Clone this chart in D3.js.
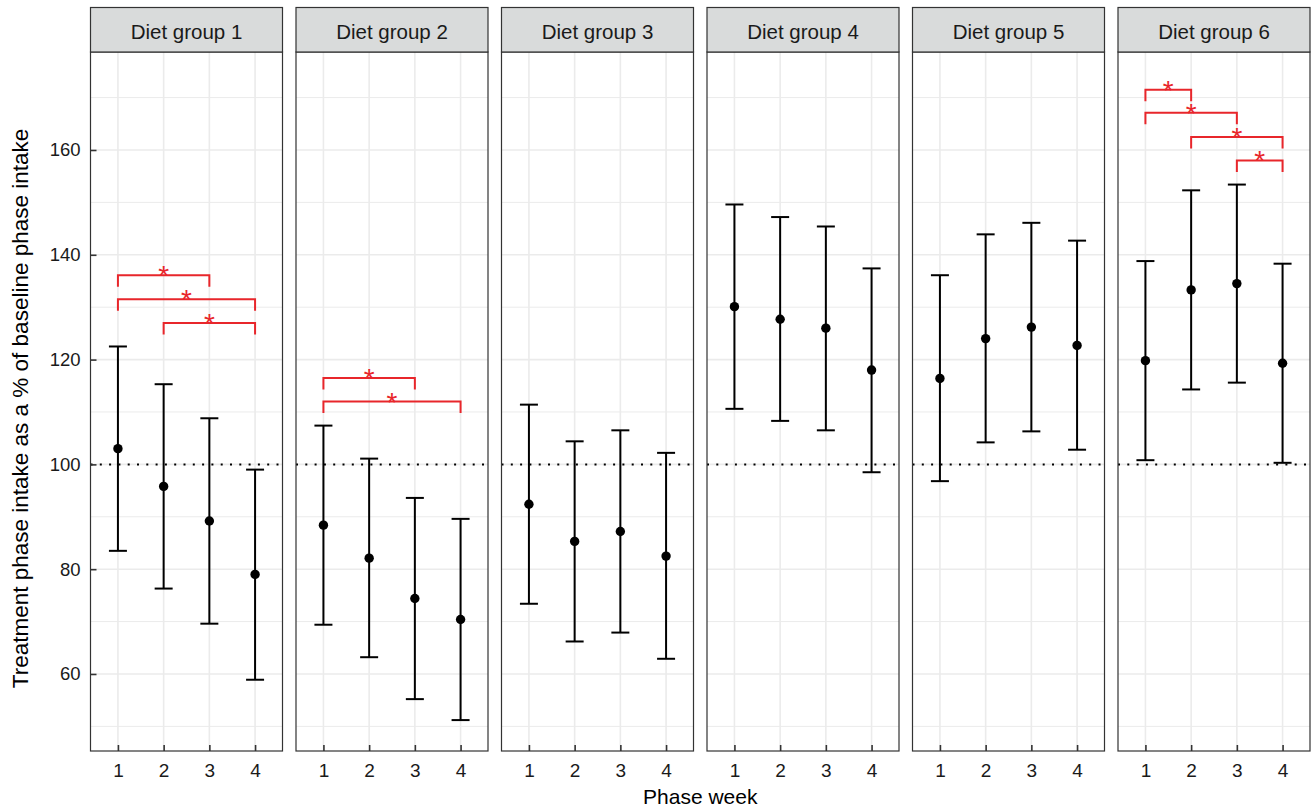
<!DOCTYPE html>
<html>
<head>
<meta charset="utf-8">
<script src="https://cdn.jsdelivr.net/npm/d3@7"></script>
<style>
  body { margin: 0; background: #fff; }
  svg { display: block; font-family: "Liberation Sans", Arial, Helvetica, sans-serif; }
</style>
</head>
<body>
<div id="chart"></div>
<script>
const groups = ["Diet group 1", "Diet group 2", "Diet group 3", "Diet group 4", "Diet group 5", "Diet group 6"];
const weeks = ["1", "2", "3", "4"];

// mean and interval limits, one row per diet group, one entry per week
const means = [
  [103.0, 95.8, 89.2, 79.0],
  [88.4, 82.1, 74.4, 70.4],
  [92.4, 85.3, 87.2, 82.5],
  [130.1, 127.7, 126.0, 118.0],
  [116.4, 124.0, 126.2, 122.7],
  [119.8, 133.3, 134.5, 119.3]
];
const lower = [
  [83.5, 76.3, 69.6, 58.9],
  [69.4, 63.2, 55.2, 51.2],
  [73.4, 66.2, 67.9, 62.9],
  [110.6, 108.3, 106.5, 98.5],
  [96.8, 104.2, 106.3, 102.8],
  [100.8, 114.3, 115.6, 100.3]
];
const upper = [
  [122.5, 115.3, 108.8, 99.0],
  [107.4, 101.1, 93.6, 89.6],
  [111.4, 104.4, 106.5, 102.2],
  [149.6, 147.2, 145.4, 137.4],
  [136.1, 143.9, 146.1, 142.7],
  [138.8, 152.3, 153.4, 138.3]
];

// significance brackets
const sigGroup = [0, 0, 0, 1, 1, 5, 5, 5, 5];
const sigFrom = ["1", "1", "2", "1", "1", "1", "1", "2", "3"];
const sigTo = ["3", "4", "4", "3", "4", "2", "3", "4", "4"];
const sigLevel = [136.1, 131.5, 127.0, 116.5, 112.0, 171.5, 167.1, 162.5, 158.0];
const sigLabel = "*";

const yTicks = [60, 80, 100, 120, 140, 160];
const yMinor = [50, 70, 90, 110, 130, 150, 170];
const refLine = 100;

const W = 1312, H = 811;
const panel = { left: 90.5, width: 192, gap: 13.5, top: 52, bottom: 751, stripTop: 7.5 };
const red = "#e8262b";

const svg = d3.select("#chart").append("svg")
  .attr("width", W)
  .attr("height", H);

const y = d3.scaleLinear()
  .domain([45.3, 178.7])
  .range([panel.bottom, panel.top]);

const x = d3.scalePoint()
  .domain(weeks)
  .range([0, panel.width])
  .padding(0.6);

groups.forEach((name, gi) => {
  const px = panel.left + gi * (panel.width + panel.gap);
  const g = svg.append("g").attr("transform", `translate(${px},0)`);

  // grid
  g.append("g")
    .selectAll("line")
    .data(yMinor)
    .join("line")
    .attr("x1", 0).attr("x2", panel.width)
    .attr("y1", (d) => y(d)).attr("y2", (d) => y(d))
    .attr("stroke", "#ebebeb").attr("stroke-width", 1);

  g.append("g")
    .selectAll("line")
    .data(yTicks)
    .join("line")
    .attr("x1", 0).attr("x2", panel.width)
    .attr("y1", (d) => y(d)).attr("y2", (d) => y(d))
    .attr("stroke", "#ebebeb").attr("stroke-width", 1.6);

  g.append("g")
    .selectAll("line")
    .data(weeks)
    .join("line")
    .attr("x1", (d) => x(d)).attr("x2", (d) => x(d))
    .attr("y1", panel.top).attr("y2", panel.bottom)
    .attr("stroke", "#ebebeb").attr("stroke-width", 1.6);

  // reference line
  g.append("line")
    .attr("x1", 0).attr("x2", panel.width)
    .attr("y1", y(refLine)).attr("y2", y(refLine))
    .attr("stroke", "#000")
    .attr("stroke-width", 2)
    .attr("stroke-dasharray", "2 7.3");

  const rows = weeks.map((w, wi) => ({
    week: w,
    mean: means[gi][wi],
    lo: lower[gi][wi],
    hi: upper[gi][wi]
  }));

  // error bars
  const bars = g.append("g")
    .attr("stroke", "#000")
    .attr("stroke-width", 2)
    .attr("fill", "none");

  bars.selectAll("line.v")
    .data(rows)
    .join("line")
    .attr("class", "v")
    .attr("x1", (d) => x(d.week)).attr("x2", (d) => x(d.week))
    .attr("y1", (d) => y(d.lo)).attr("y2", (d) => y(d.hi));

  bars.selectAll("line.lo")
    .data(rows)
    .join("line")
    .attr("class", "lo")
    .attr("x1", (d) => x(d.week) - 9).attr("x2", (d) => x(d.week) + 9)
    .attr("y1", (d) => y(d.lo)).attr("y2", (d) => y(d.lo));

  bars.selectAll("line.hi")
    .data(rows)
    .join("line")
    .attr("class", "hi")
    .attr("x1", (d) => x(d.week) - 9).attr("x2", (d) => x(d.week) + 9)
    .attr("y1", (d) => y(d.hi)).attr("y2", (d) => y(d.hi));

  g.append("g")
    .selectAll("circle")
    .data(rows)
    .join("circle")
    .attr("cx", (d) => x(d.week))
    .attr("cy", (d) => y(d.mean))
    .attr("r", 4.7)
    .attr("fill", "#000");

  // brackets
  const sig = sigGroup
    .map((sg, i) => ({ g: sg, from: sigFrom[i], to: sigTo[i], level: sigLevel[i] }))
    .filter((d) => d.g === gi);

  const br = g.append("g");
  br.selectAll("path")
    .data(sig)
    .join("path")
    .attr("d", (d) => {
      const x0 = x(d.from), x1 = x(d.to);
      const yt = y(d.level), yb = y(d.level - 2.2);
      return `M${x0},${yb}V${yt}H${x1}V${yb}`;
    })
    .attr("fill", "none")
    .attr("stroke", red)
    .attr("stroke-width", 2);

  br.selectAll("text")
    .data(sig)
    .join("text")
    .attr("x", (d) => (x(d.from) + x(d.to)) / 2)
    .attr("y", (d) => y(d.level) + 10)
    .attr("text-anchor", "middle")
    .attr("font-size", 28)
    .attr("fill", red)
    .text(sigLabel);

  // axes with inward ticks
  const xAxis = g.append("g")
    .attr("transform", `translate(0,${panel.bottom})`)
    .call(d3.axisBottom(x).tickSizeInner(-6).tickSizeOuter(0).tickPadding(13));
  xAxis.select(".domain").remove();
  xAxis.selectAll(".tick line").attr("stroke", "#333").attr("stroke-width", 1.6);
  xAxis.selectAll(".tick text")
    .attr("font-size", 19)
    .attr("fill", "#1a1a1a")
    .attr("font-family", "Liberation Sans, Arial, sans-serif");

  if (gi === 0) {
    const yAxis = g.append("g")
      .call(d3.axisLeft(y).tickValues(yTicks).tickSizeInner(-6).tickSizeOuter(0).tickPadding(10));
    yAxis.select(".domain").remove();
    yAxis.selectAll(".tick line").attr("stroke", "#333").attr("stroke-width", 1.6);
    yAxis.selectAll(".tick text")
      .attr("font-size", 18.5)
      .attr("fill", "#1a1a1a")
      .attr("font-family", "Liberation Sans, Arial, sans-serif");
  }

  // panel border
  g.append("rect")
    .attr("x", 0).attr("y", panel.top)
    .attr("width", panel.width).attr("height", panel.bottom - panel.top)
    .attr("fill", "none")
    .attr("stroke", "#333")
    .attr("stroke-width", 1.2);

  // strip
  g.append("rect")
    .attr("x", 0).attr("y", panel.stripTop)
    .attr("width", panel.width).attr("height", panel.top - panel.stripTop)
    .attr("fill", "#d9dbdb")
    .attr("stroke", "#333")
    .attr("stroke-width", 1.2);

  g.append("text")
    .attr("x", panel.width / 2)
    .attr("y", 38.5)
    .attr("text-anchor", "middle")
    .attr("font-size", 20.5)
    .attr("fill", "#1a1a1a")
    .text(name);
});

const plotMid = panel.left + (groups.length * (panel.width + panel.gap) - panel.gap) / 2;

svg.append("text")
  .attr("x", plotMid)
  .attr("y", 804)
  .attr("text-anchor", "middle")
  .attr("font-size", 21)
  .attr("fill", "#000")
  .text("Phase week");

svg.append("text")
  .attr("transform", `translate(28,${(panel.top + panel.bottom) / 2 + 7}) rotate(-90)`)
  .attr("text-anchor", "middle")
  .attr("font-size", 22.5)
  .attr("fill", "#000")
  .text("Treatment phase intake as a % of baseline phase intake");
</script>
</body>
</html>
